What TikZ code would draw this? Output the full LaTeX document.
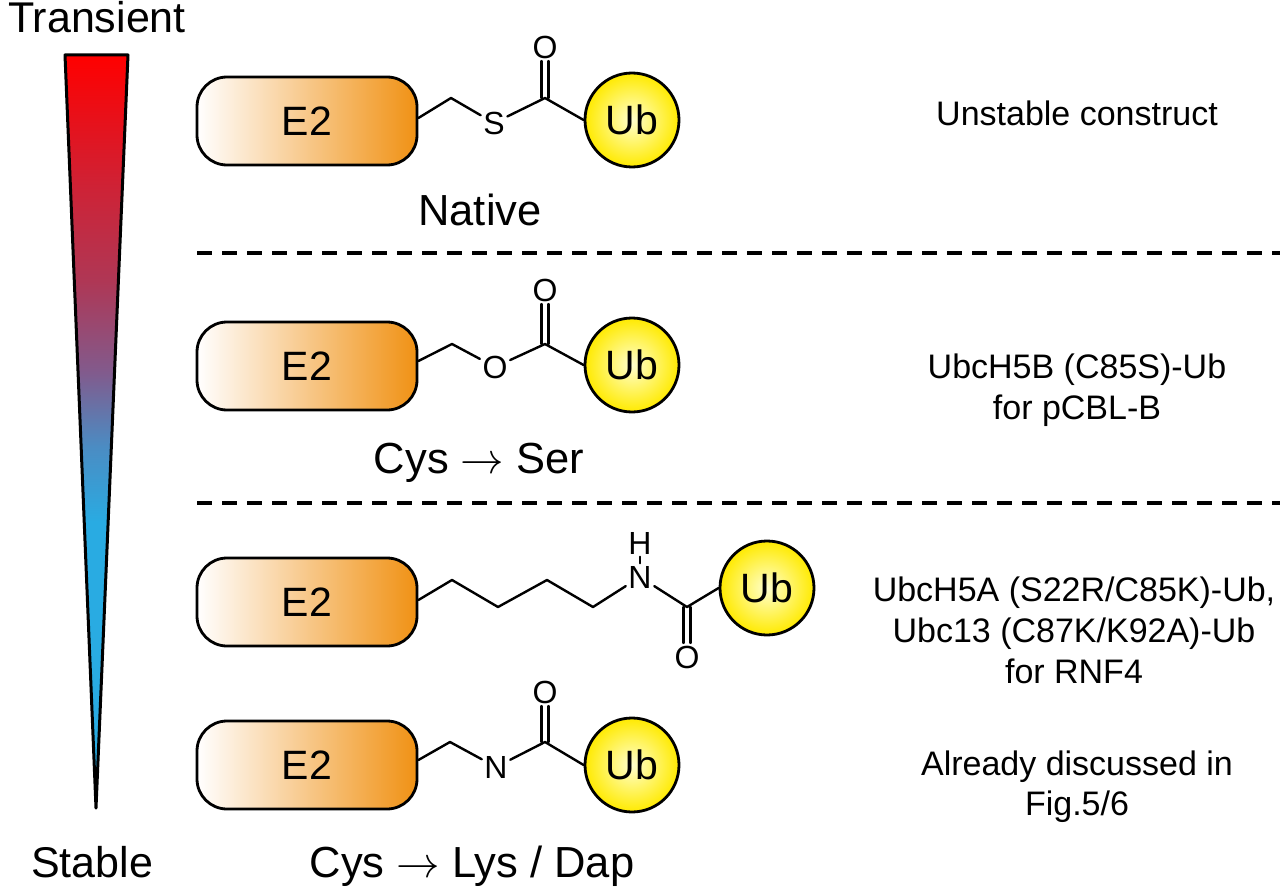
\RequirePackage{fix-cm}
\documentclass[tikz,border=0pt]{standalone}
\usepackage{fontspec}
\setmainfont{Liberation Sans}
\definecolor{e2orange}{RGB}{240,145,20}
\definecolor{ubyellow}{RGB}{255,234,0}
\definecolor{ubcenter}{RGB}{255,255,205}
\definecolor{wred}{RGB}{255,0,0}
\definecolor{wcrim}{RGB}{205,35,55}
\definecolor{wrose}{RGB}{175,55,85}
\definecolor{wpurp}{RGB}{130,90,140}
\definecolor{wblue}{RGB}{75,140,195}
\definecolor{wcyan}{RGB}{41,171,226}
\pgfdeclareverticalshading{wedgeshade}{100bp}{color(0bp)=(wcyan); color(25bp)=(wcyan); color(44bp)=(wcyan); color(49bp)=(wblue); color(54bp)=(wpurp); color(60bp)=(wrose); color(66bp)=(wcrim); color(75bp)=(wred); color(100bp)=(wred)}
\begin{document}
\begin{tikzpicture}[x=1pt,y=-1pt,
  e2box/.style={draw=black, line width=2.8pt, rounded corners=30pt, minimum width=220pt, minimum height=88pt, left color=white, right color=e2orange, inner sep=0pt, font=\fontsize{41}{48}\selectfont},
  ubball/.style={circle, draw=black, line width=2.8pt, minimum size=94pt, inner sep=0pt, inner color=ubcenter, outer color=ubyellow, font=\fontsize{41}{48}\selectfont},
  atom/.style={inner sep=2.5pt, font=\fontsize{32}{36}\selectfont},
  bond/.style={line width=2.4pt, line cap=round, line join=round},
  sublabel/.style={anchor=base, font=\fontsize{43.5}{50}\selectfont},
  biglabel/.style={anchor=base, font=\fontsize{43}{50}\selectfont},
  info/.style={anchor=base, font=\fontsize{34}{41}\selectfont},
  sep/.style={line width=3.5pt, dash pattern=on 15pt off 10pt},
]
\useasboundingbox (0,0) rectangle (1280,888);

% wedge
\coordinate (wtl) at (65,55);
\coordinate (wtr) at (128,55);
\coordinate (wtip) at (96,808);
\path[shading=wedgeshade] (wtl) -- (wtr) -- (wtip) -- cycle;
\draw[line width=3pt, line join=round] (wtl) -- (wtr) -- (wtip) -- cycle;
\node[biglabel] (transient) at (97,33) {Transient};
\node[biglabel] (stable) at (92,877) {Stable};

% separators
\coordinate (s1a) at (197,253);
\coordinate (s1b) at (1280,253);
\coordinate (s2a) at (197,503);
\coordinate (s2b) at (1280,503);
\draw[sep] (s1a) -- (s1b);
\draw[sep] (s2a) -- (s2b);

% Row 1: native thioester
\node[e2box] (e2a) at (307,121) {E2};
\node[ubball] (uba) at (632,120) {Ub};
\coordinate (a1) at (451,98);
\node[atom] (sa) at (494,123) {S};
\coordinate (ca) at (545,98);
\node[atom] (oa) at (545,47) {O};
\draw[bond] ([yshift=3pt]e2a.east) -- (a1) -- (sa);
\draw[bond] (sa) -- (ca) -- (uba.west);
\draw[bond] ([xshift=-3.5pt]ca) -- ([xshift=-3.5pt]oa.south);
\draw[bond] ([xshift=3.5pt]ca) -- ([xshift=3.5pt]oa.south);
\node[sublabel] (native) at (480,225) {Native};

% Row 2: oxyester
\node[e2box] (e2b) at (307,366) {E2};
\node[ubball] (ubb) at (632,365) {Ub};
\coordinate (b1) at (452,344);
\node[atom] (ob) at (495,367) {O};
\coordinate (cb) at (545,344);
\node[atom] (ocb) at (545,290) {O};
\draw[bond] ([yshift=5pt]e2b.east) -- (b1) -- (ob);
\draw[bond] (ob) -- (cb) -- (ubb.west);
\draw[bond] ([xshift=-3.5pt]cb) -- ([xshift=-3.5pt]ocb.south);
\draw[bond] ([xshift=3.5pt]cb) -- ([xshift=3.5pt]ocb.south);
\node[sublabel] (cysser) at (479,473) {Cys $\rightarrow$ Ser};

% Row 3: lysine isopeptide
\node[e2box] (e2c) at (307,602) {E2};
\node[ubball] (ubc) at (767,588) {Ub};
\coordinate (k1) at (452,580);
\coordinate (k2) at (498,607);
\coordinate (k3) at (547,580);
\coordinate (k4) at (593,607);
\node[atom] (nc) at (640,577) {N};
\node[atom] (hc) at (640,543) {H};
\coordinate (cc) at (687,607);
\node[atom] (occ) at (687,657) {O};
\draw[bond] ([yshift=2pt]e2c.east) -- (k1) -- (k2) -- (k3) -- (k4) -- (nc);
\draw[bond] (nc) -- (cc) -- (ubc.west);
\draw[bond] (nc) -- (hc);
\draw[bond] ([xshift=-3.5pt]cc) -- ([xshift=-3.5pt]occ.north);
\draw[bond] ([xshift=3.5pt]cc) -- ([xshift=3.5pt]occ.north);

% Row 4: Dap amide
\node[e2box] (e2d) at (307,765) {E2};
\node[ubball] (ubd) at (632,765) {Ub};
\coordinate (d1) at (450,742);
\node[atom] (nd) at (496,767) {N};
\coordinate (cd) at (545,742);
\node[atom] (od) at (545,692) {O};
\draw[bond] ([yshift=5pt]e2d.east) -- (d1) -- (nd);
\draw[bond] (nd) -- (cd) -- (ubd.west);
\draw[bond] ([xshift=-3.5pt]cd) -- ([xshift=-3.5pt]od.south);
\draw[bond] ([xshift=3.5pt]cd) -- ([xshift=3.5pt]od.south);
\node[sublabel] (cyslys) at (472,877) {Cys $\rightarrow$ Lys / Dap};

% right-hand descriptions
\node[info] (t1) at (1077,126) {Unstable construct};
\node[info] (t2a) at (1077,378) {UbcH5B (C85S)-Ub};
\node[info] (t2b) at (1077,419) {for pCBL-B};
\node[info] (t3a) at (1074,601) {UbcH5A (S22R/C85K)-Ub,};
\node[info] (t3b) at (1074,642) {Ubc13 (C87K/K92A)-Ub};
\node[info] (t3c) at (1074,683) {for RNF4};
\node[info] (t4a) at (1077,775) {Already discussed in};
\node[info] (t4b) at (1077,815) {Fig.5/6};
\end{tikzpicture}
\end{document}
